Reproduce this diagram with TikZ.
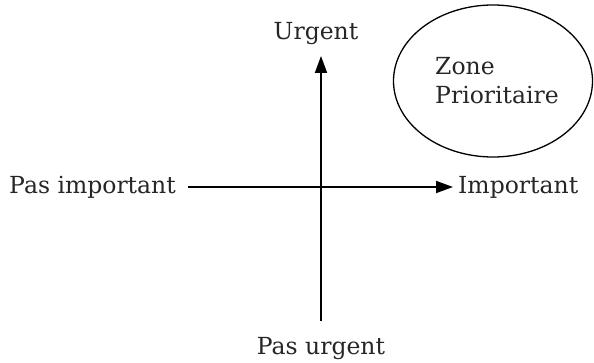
\documentclass[tikz,border=0pt]{standalone}
\usepackage{fontspec}
\setmainfont{DejaVu Serif}
\usetikzlibrary{arrows.meta,shapes.geometric}
\begin{document}
\begin{tikzpicture}[x=1pt,y=-1pt,
  lbl/.style={font=\fontsize{23.5}{29}\selectfont, text=black!85, inner sep=0pt},
  axis/.style={line width=1.8pt, -{Triangle[length=17pt,width=12pt]}}]
\useasboundingbox (0,0) rectangle (594,363);
\coordinate (vb) at (321,321);
\coordinate (vt) at (321,56);
\coordinate (hl) at (188,187);
\coordinate (hr) at (453,187);
\node[lbl] (urg) at (316,34) {Urgent};
\node[lbl] (purg) at (321,349) {Pas urgent};
\node[lbl, anchor=east] (pimp) at (176,187) {Pas important};
\node[lbl, anchor=west] (imp) at (458,187) {Important};
\draw[axis] (vb) -- (vt);
\draw[axis] (hl) -- (hr);
\node[draw, ellipse, line width=1.3pt, minimum width=199pt, minimum height=152pt] (zone) at (493,81) {};
\node[lbl, align=left] (zt) at (497,81) {Zone\\Prioritaire};
\end{tikzpicture}
\end{document}
